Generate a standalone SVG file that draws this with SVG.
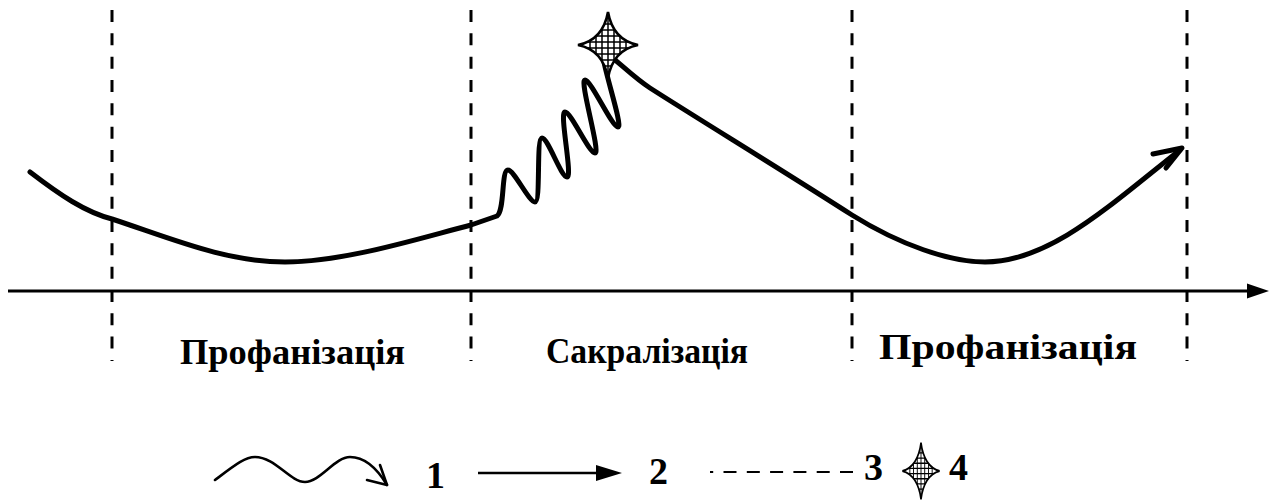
<svg xmlns="http://www.w3.org/2000/svg" width="1275" height="501" viewBox="0 0 1275 501">
<style>
.dash{stroke:#000;stroke-width:3;stroke-dasharray:12 11.33;fill:none}
.curve{stroke:#000;stroke-width:5;fill:none;stroke-linecap:round;stroke-linejoin:round}
.lbl{font-family:"Liberation Serif","Times New Roman",serif;font-weight:bold;font-size:36.5px;fill:#000}
.leg{font-family:"Liberation Serif","Times New Roman",serif;font-weight:bold;font-size:38px;fill:#000}
.thin{stroke:#000;stroke-width:2.6;fill:none;stroke-linecap:round;stroke-linejoin:round}
</style>
<defs>
<clipPath id="starClip">
<path d="M0,-33 Q5,-5 30,0 Q5,5 0,33 Q-5,5 -30,0 Q-5,-5 0,-33 Z"/>
</clipPath>
<g id="star">
<path d="M0,-33 Q5,-5 30,0 Q5,5 0,33 Q-5,5 -30,0 Q-5,-5 0,-33 Z" fill="#fff"/>
<g clip-path="url(#starClip)" stroke="#000" stroke-width="1.5" fill="none">
<path d="M-30,-27H30M-30,-21H30M-30,-15H30M-30,-9H30M-30,-3H30M-30,3H30M-30,9H30M-30,15H30M-30,21H30M-30,27H30"/>
<path d="M-18,-33V33M-12,-33V33M-6,-33V33M0,-33V33M6,-33V33M12,-33V33M18,-33V33"/>
</g>
<path d="M0,-33 Q5,-5 30,0 Q5,5 0,33 Q-5,5 -30,0 Q-5,-5 0,-33 Z" fill="none" stroke="#000" stroke-width="2.6" stroke-linejoin="miter"/>
</g>
</defs>

<g id="dividers">
<line class="dash" x1="112" y1="10" x2="112" y2="361"/>
<line class="dash" x1="471" y1="10" x2="471" y2="361"/>
<line class="dash" x1="852" y1="10" x2="852" y2="361"/>
<line class="dash" x1="1187" y1="10" x2="1187" y2="361"/>
</g>

<g id="axis">
<line x1="8" y1="291" x2="1250" y2="291" stroke="#000" stroke-width="3"/>
<path d="M1247,283.5 L1269,291 L1247,298.5 Z" fill="#000"/>
</g>

<g id="connectors">
<path class="curve" d="M30,172 C60,195 85,212 112,219 C170,238 225,262 285,262 C345,262 420,238 471,225 L497,216 C505,210 501,170 508,170 C514,170 529,202 535,202 C541,202 536,138 542,138 C548,138 561,177 567,177 C573,177 559,112 565,112 C571,112 589,153 595,153 C601,153 579,80 585,80 C591,80 612,127 618,127 C624,127 598,53 604,53 C610,53 630,75 650,88 C700,120 790,175 852,215 C900,245 950,262 985,262 C1050,262 1110,205 1180,150"/>
<polyline class="curve" points="1153,154 1182,148 1166,168"/>
</g>

<g id="peak-star">
<use href="#star" transform="translate(608,45)"/>
</g>

<g id="labels">
<text class="lbl" x="180" y="364" textLength="225" lengthAdjust="spacingAndGlyphs">Профанізація</text>
<text class="lbl" x="546" y="363" textLength="202" lengthAdjust="spacingAndGlyphs">Сакралізація</text>
<text class="lbl" x="879" y="359" textLength="258" lengthAdjust="spacingAndGlyphs">Профанізація</text>
</g>

<g id="legend">
<path class="thin" d="M215,480 C235,465 245,457 255,457 C275,457 290,482 305,482 C320,482 335,457 350,457 C365,457 378,470 387,485"/>
<polyline class="thin" points="380,465 387,485 367,480"/>
<text class="leg" x="426" y="488">1</text>
<line x1="478" y1="473" x2="600" y2="473" stroke="#000" stroke-width="2.6"/>
<path d="M596,465 L622,473 L596,481 Z" fill="#000"/>
<text class="leg" x="649" y="484">2</text>
<line x1="853" y1="472" x2="710" y2="472" stroke="#000" stroke-width="2.2" stroke-dasharray="13 10.3"/>
<text class="leg" x="864" y="480">3</text>
<use href="#star" transform="translate(921,471) scale(0.62,0.86)"/>
<text class="leg" x="949" y="480">4</text>
</g>
</svg>
